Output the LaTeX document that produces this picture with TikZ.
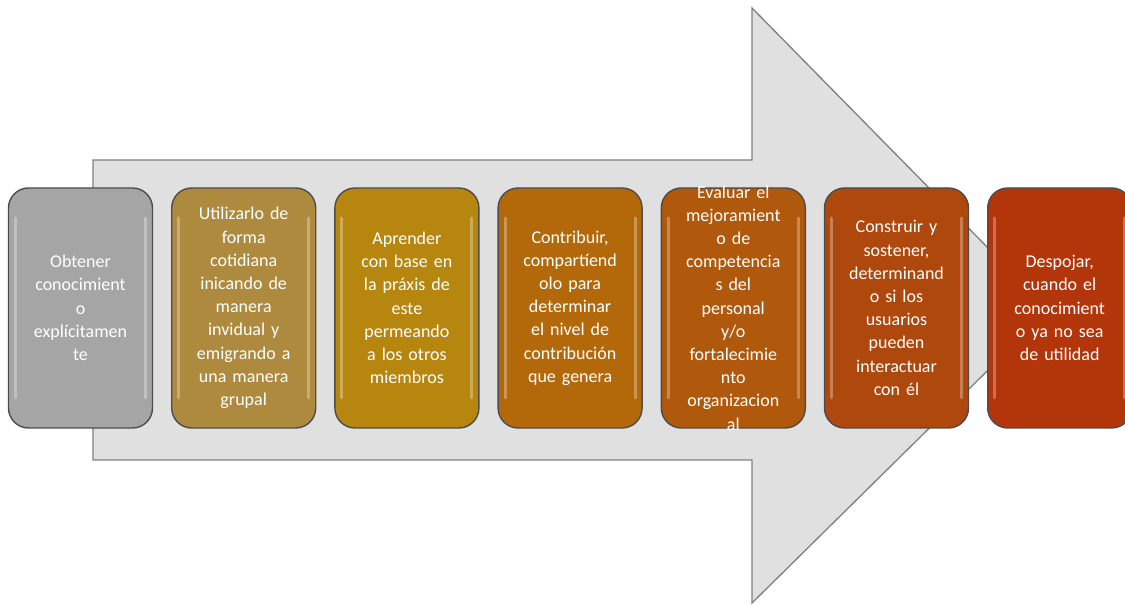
\documentclass[tikz,border=0pt]{standalone}
\usepackage{fontspec}
\setmainfont{Carlito}
\usetikzlibrary{positioning}
\definecolor{arrowgray}{HTML}{E0E0E0}
\definecolor{edgegray}{HTML}{7F7F7F}
\definecolor{c1}{HTML}{A5A5A5}
\definecolor{c2}{HTML}{AE8A3E}
\definecolor{c3}{HTML}{B7860F}
\definecolor{c4}{HTML}{B3690A}
\definecolor{c5}{HTML}{B0580C}
\definecolor{c6}{HTML}{AF480C}
\definecolor{c7}{HTML}{B3360A}
\tikzset{
    stage/.style={draw=black!70, line width=1.4pt, rounded corners=20pt,
        minimum width=144pt, minimum height=240pt, text width=134pt,
        inner sep=0pt, align=center, text=white,
        font=\fontsize{18}{23.2}\selectfont,
        path picture={
            \draw[white, opacity=0.3, line width=3pt, line cap=round]
                ([xshift=7pt, yshift=-30pt]path picture bounding box.north west)
                -- ([xshift=7pt, yshift=30pt]path picture bounding box.south west);
            \draw[white, opacity=0.3, line width=3pt, line cap=round]
                ([xshift=-7pt, yshift=-30pt]path picture bounding box.north east)
                -- ([xshift=-7pt, yshift=30pt]path picture bounding box.south east);
        }},
    stagetext/.style={text width=134pt, inner sep=0pt, align=center, text=white,
        font=\fontsize{18}{23.2}\selectfont},
    bigarrow/.style={fill=arrowgray, draw=edgegray, line width=1.3pt, line join=miter}
}
\begin{document}
\begin{tikzpicture}[x=1pt, y=1pt, node distance=17.8pt]
\useasboundingbox (0,0) rectangle (1125,605);
% arrow behind the stages
\draw[bigarrow] (93,445) -- (752,445) -- (752,597) -- (1049,295)
    -- (752,2) -- (752,145) -- (93,145) -- cycle;

\node[stage, fill=c1] (obtener) at (80.5,297) {Obtener\\conocimient\\o\\expl\'icitamen\\te};
\node[stage, fill=c2, right=of obtener] (utilizar) {Utilizarlo de\\forma\\cotidiana\\inicando de\\manera\\invidual y\\emigrando a\\una manera\\grupal};
\node[stage, fill=c3, right=of utilizar] (aprender) {Aprender\\con base en\\la pr\'axis de\\este\\permeando\\a los otros\\miembros};
\node[stage, fill=c4, right=of aprender] (contribuir) {Contribuir,\\compart\'iend\\olo para\\determinar\\el nivel de\\contribuci\'on\\que genera};
\node[stage, fill=c5, right=of contribuir] (evaluar) {};
\node[stagetext] at (evaluar) {Evaluar el\\mejoramient\\o de\\competencia\\s del\\personal\\y/o\\fortalecimie\\nto\\organizacion\\al};
\node[stage, fill=c6, right=of evaluar] (construir) {Construir y\\sostener,\\determinand\\o si los\\usuarios\\pueden\\interactuar\\con \'el};
\node[stage, fill=c7, right=of construir] (despojar) {Despojar,\\cuando el\\conocimient\\o ya no sea\\de utilidad};
\end{tikzpicture}
\end{document}
